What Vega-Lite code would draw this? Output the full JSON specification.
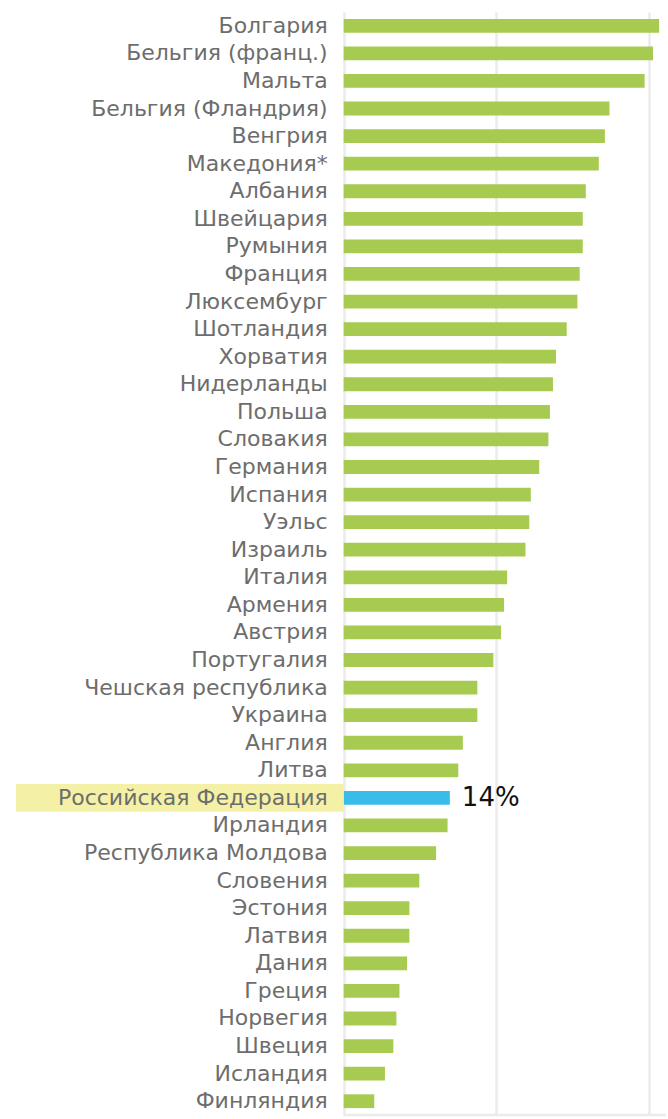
{
  "$schema": "https://vega.github.io/schema/vega-lite/v6.json",
  "width": 668,
  "height": 1119,
  "autosize": {"type": "fit", "contains": "padding"},
  "padding": {"top": 12, "bottom": 2, "left": 0, "right": 0},
  "background": "white",
  "config": {"view": {"stroke": null}},
  "data": {
    "values": [
      {"country": "Болгария", "value": 41.3},
      {"country": "Бельгия (франц.)", "value": 40.5},
      {"country": "Мальта", "value": 39.4},
      {"country": "Бельгия (Фландрия)", "value": 34.8},
      {"country": "Венгрия", "value": 34.2},
      {"country": "Македония*", "value": 33.4},
      {"country": "Албания", "value": 31.7},
      {"country": "Швейцария", "value": 31.3},
      {"country": "Румыния", "value": 31.3},
      {"country": "Франция", "value": 30.9},
      {"country": "Люксембург", "value": 30.6},
      {"country": "Шотландия", "value": 29.2},
      {"country": "Хорватия", "value": 27.8},
      {"country": "Нидерланды", "value": 27.4},
      {"country": "Польша", "value": 27.0},
      {"country": "Словакия", "value": 26.8},
      {"country": "Германия", "value": 25.6},
      {"country": "Испания", "value": 24.5},
      {"country": "Уэльс", "value": 24.3},
      {"country": "Израиль", "value": 23.8},
      {"country": "Италия", "value": 21.4},
      {"country": "Армения", "value": 21.0},
      {"country": "Австрия", "value": 20.6},
      {"country": "Португалия", "value": 19.6},
      {"country": "Чешская республика", "value": 17.5},
      {"country": "Украина", "value": 17.5},
      {"country": "Англия", "value": 15.6},
      {"country": "Литва", "value": 15.0},
      {"country": "Российская Федерация", "value": 13.9, "label": "14%"},
      {"country": "Ирландия", "value": 13.6},
      {"country": "Республика Молдова", "value": 12.1},
      {"country": "Словения", "value": 9.9},
      {"country": "Эстония", "value": 8.6},
      {"country": "Латвия", "value": 8.6},
      {"country": "Дания", "value": 8.3},
      {"country": "Греция", "value": 7.3},
      {"country": "Норвегия", "value": 6.9},
      {"country": "Швеция", "value": 6.5},
      {"country": "Исландия", "value": 5.4},
      {"country": "Финляндия", "value": 4.0}
    ]
  },
  "encoding": {
    "y": {
      "field": "country",
      "type": "nominal",
      "sort": null,
      "scale": {"paddingInner": 0, "paddingOuter": 0},
      "axis": null
    }
  },
  "layer": [
    {
      "mark": {"type": "bar", "height": {"band": 0.5}},
      "encoding": {
        "x": {
          "field": "value",
          "type": "quantitative",
          "scale": {"domain": [-45.0, 42.2], "nice": false, "zero": false},
          "axis": {
            "values": [0, 20, 40],
            "labels": false,
            "ticks": false,
            "domain": false,
            "grid": true,
            "gridColor": "#ebebeb",
            "gridWidth": 2.5,
            "title": null
          }
        },
        "color": {
          "condition": {"test": "datum.country === 'Российская Федерация'", "value": "#38bdea"},
          "value": "#a6cb50"
        }
      }
    },
    {
      "transform": [{"filter": "datum.country === 'Российская Федерация'"}],
      "mark": {"type": "bar", "color": "#f4f1a6"},
      "encoding": {
        "x": {"datum": -42.9, "type": "quantitative"},
        "x2": {"datum": 0}
      }
    },
    {
      "transform": [{"filter": "datum.country === 'Финляндия'"}],
      "mark": {"type": "rule", "color": "#ebebeb", "strokeWidth": 2.5},
      "encoding": {
        "x": {"datum": 0, "type": "quantitative"},
        "x2": {"datum": 42.2},
        "y": {"field": "country", "type": "nominal", "sort": null, "bandPosition": 1}
      }
    },
    {
      "mark": {
        "type": "text",
        "align": "right",
        "baseline": "middle",
        "dx": -16,
        "font": "DejaVu Sans",
        "fontSize": 22,
        "color": "#6d6d6d"
      },
      "encoding": {
        "x": {"datum": 0, "type": "quantitative"},
        "text": {"field": "country"}
      }
    },
    {
      "transform": [{"filter": "datum.country === 'Российская Федерация'"}],
      "mark": {
        "type": "text",
        "align": "left",
        "baseline": "middle",
        "dx": 12,
        "font": "DejaVu Sans",
        "fontSize": 26,
        "color": "#111111"
      },
      "encoding": {
        "x": {"field": "value", "type": "quantitative"},
        "text": {"field": "label"}
      }
    }
  ]
}
